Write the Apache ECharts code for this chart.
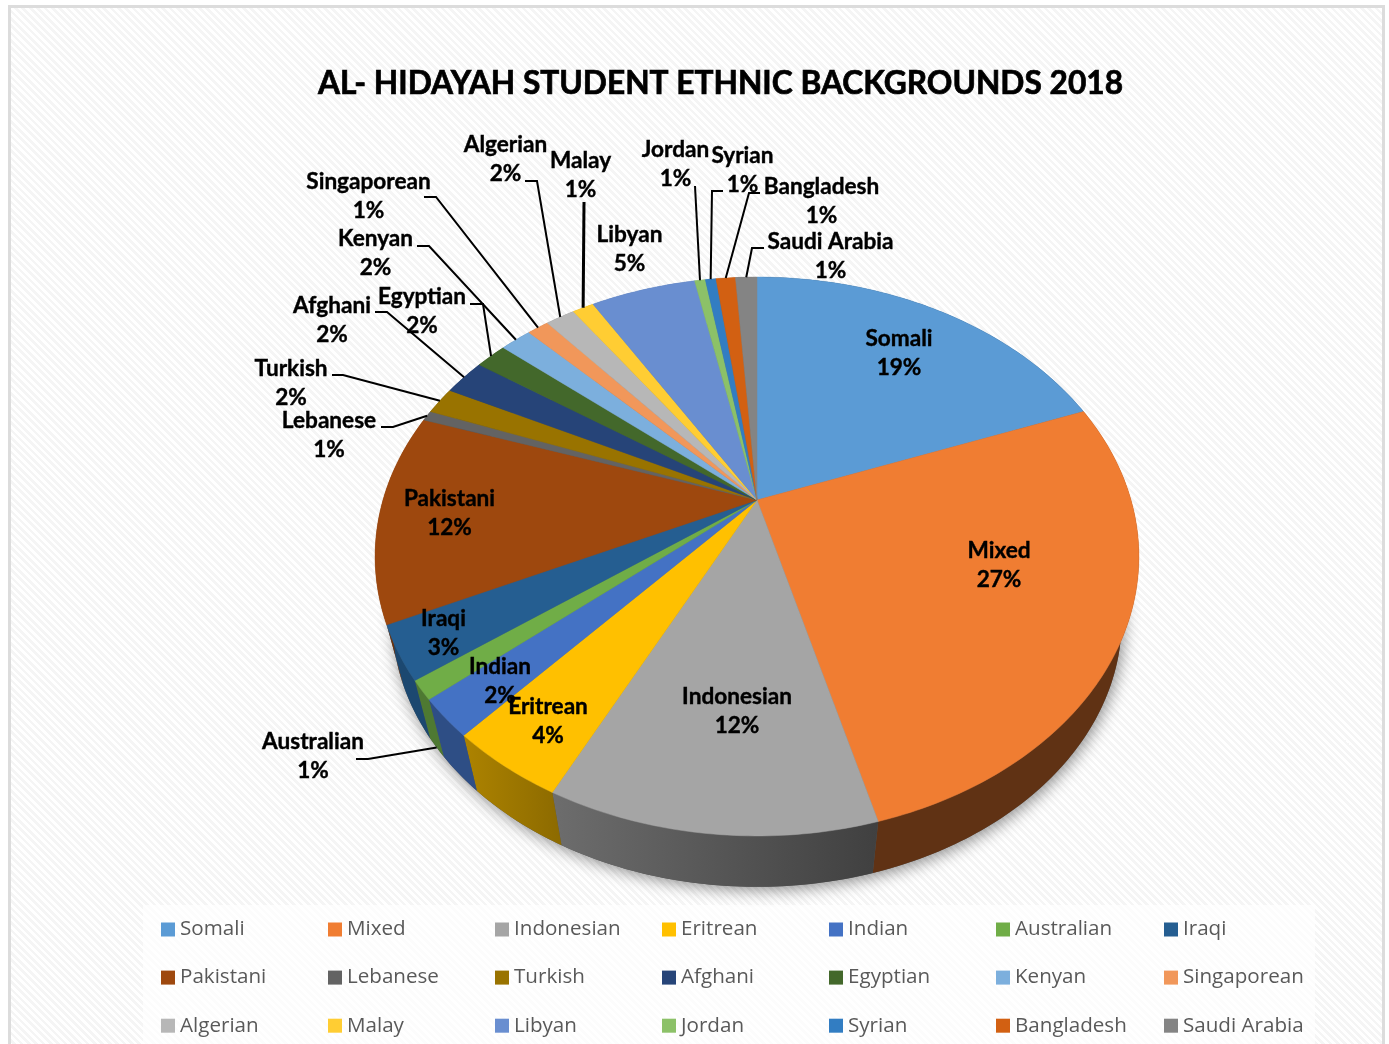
<!DOCTYPE html>
<html>
<head>
<meta charset="utf-8">
<title>Al-Hidayah student ethnic backgrounds 2018</title>
<script src="https://cdn.jsdelivr.net/npm/echarts@6/dist/echarts.min.js"></script>
<style>
  html, body { margin: 0; padding: 0; background: #fff; overflow: hidden; }
  #frame {
    position: absolute; left: 8px; top: 5px; width: 1371px; height: 1060px;
    border: 3px solid #dcdcdc;
    background: repeating-linear-gradient(45deg, #fff 0, #fff 2.6px, #f5f5f5 2.6px, #f5f5f5 5.2px);
  }
  #chart { position: absolute; left: 0; top: 0; width: 1389px; height: 1044px; }
</style>
</head>
<body>
<div id="frame"></div>
<div id="chart"></div>
<script>
// Student counts expressed as a share of the school, in drawing order (clockwise from 12 o'clock).
const groups = ['Somali', 'Mixed', 'Indonesian', 'Eritrean', 'Indian', 'Australian', 'Iraqi',
  'Pakistani', 'Lebanese', 'Turkish', 'Afghani', 'Egyptian', 'Kenyan', 'Singaporean',
  'Algerian', 'Malay', 'Libyan', 'Jordan', 'Syrian', 'Bangladesh', 'Saudi Arabia'];
const shares = [19.25, 26.55, 11.6, 4.2, 2.2, 1.1, 3.1,
  12.15, 0.6, 1.6, 2.15, 1.6, 1.6, 1.1,
  1.5, 1.1, 5.4, 0.55, 0.55, 1.0, 1.1];
const colors = ['#5B9BD5', '#F07D32', '#A5A5A5', '#FFC000', '#4472C4', '#70AD47', '#255E91',
  '#9E480E', '#636363', '#997300', '#264478', '#43682B', '#7CAFDD', '#F1975A',
  '#B7B7B7', '#FFCD33', '#698ED0', '#8CC168', '#327DC2', '#D26012', '#848484'];
const titleText = 'AL- HIDAYAH STUDENT ETHNIC BACKGROUNDS 2018';

// Brightness of each slice's outer wall, left end then right end.
const wallShade = [[.4, .4], [.4, .4], [.66, .39], [.68, .55], [.68, .68], [.7, .7], [.77, .77]];

// Tilted disc: perspective projection of a unit circle, plus the smaller base disc below it.
const disc = { cx: 757, cy: 500, a: 374, b: 268, k: 0.2022, baseScale: 0.955, baseDrop: 66 };

// Label centres and the elbows of their leader lines.
const labelSpots = {
  'Somali': [899, 353.5], 'Mixed': [999, 565.5], 'Indonesian': [737, 711.5], 'Eritrean': [548, 721.5],
  'Indian': [500, 681.5], 'Iraqi': [443.5, 633.5], 'Pakistani': [449.5, 513.5], 'Australian': [313, 756.5],
  'Lebanese': [329, 435], 'Turkish': [291, 383.5], 'Afghani': [332, 320], 'Egyptian': [422, 311.5],
  'Kenyan': [375.5, 253.5], 'Singaporean': [368.5, 196.5], 'Algerian': [505.5, 159], 'Malay': [580.5, 175],
  'Libyan': [629.5, 249.5], 'Jordan': [675.5, 164.5], 'Syrian': [742.5, 170.5], 'Bangladesh': [821.5, 201.5],
  'Saudi Arabia': [830.5, 256.5]
};
const leaders = {
  'Australian': { path: [[356, 759], [368, 759]], onBase: true },
  'Lebanese': { path: [[381, 427], [393, 427]] },
  'Turkish': { path: [[332, 375], [343, 375]] },
  'Afghani': { path: [[375, 312], [387, 312]] },
  'Egyptian': { path: [[470, 304], [483, 304]] },
  'Kenyan': { path: [[417, 246], [429, 246]] },
  'Singaporean': { path: [[424, 197], [436, 197]] },
  'Algerian': { path: [[525, 181], [537, 181]] },
  'Malay': { path: [[584, 202]], width: 3 },
  'Jordan': { path: [[695, 186]] },
  'Syrian': { path: [[723, 191], [712, 191]] },
  'Bangladesh': { path: [[760, 193], [749, 193]] },
  'Saudi Arabia': { path: [[764, 248], [752, 248]] }
};

const legendColumns = [161, 328, 495, 662, 829, 996, 1164];
const total = shares.reduce((s, v) => s + v, 0);
const starts = [];
shares.reduce((s, v, i) => { starts[i] = s; return s + v; }, 0);

function angleOf(share) { return share / total * Math.PI * 2; }

function project(theta, onBase) {
  const u = Math.sin(theta), v = Math.cos(theta), w = 1 + disc.k * v;
  const X = disc.a * u / w, Y = disc.b * v / w;
  const s = onBase ? disc.baseScale : 1, drop = onBase ? disc.baseDrop : 0;
  return [disc.cx + X * s, disc.cy - Y * s + drop];
}

function rim(t0, t1, onBase) {
  const n = Math.max(2, Math.ceil((t1 - t0) / 0.015));
  const pts = [];
  for (let i = 0; i <= n; i++) pts.push(project(t0 + (t1 - t0) * i / n, onBase));
  return pts;
}

function scaled(hex, f) {
  const n = parseInt(hex.slice(1), 16);
  return 'rgb(' + [n >> 16 & 255, n >> 8 & 255, n & 255].map(c => Math.round(c * f)).join(',') + ')';
}

const labelFont = 'bold 22.6px Lato, "Open Sans", sans-serif';

function sliceItem(index) {
  const t0 = angleOf(starts[index]), t1 = angleOf(starts[index] + shares[index]), mid = (t0 + t1) / 2;
  const name = groups[index], color = colors[index];
  const top = rim(t0, t1, false), base = rim(t0, t1, true);
  const shade = wallShade[index] || [.7, .7];
  const xs = base.concat(top).map(p => p[0]);
  const xMax = Math.max.apply(null, xs), xMin = Math.min.apply(null, xs);
  const children = [
    {
      type: 'polygon', z2: 1,
      shape: { points: top.concat(base.slice().reverse()) },
      style: {
        fill: {
          type: 'linear', global: true, x: xMin, y: 0, x2: xMax, y2: 0,
          colorStops: [{ offset: 0, color: scaled(color, shade[0]) }, { offset: 1, color: scaled(color, shade[1]) }]
        }
      }
    },
    {
      type: 'polygon', z2: 2,
      shape: { points: [[disc.cx, disc.cy]].concat(top) },
      style: { fill: color, stroke: color, lineWidth: 0.5 }
    }
  ];
  const lead = leaders[name];
  if (lead) {
    children.push({
      type: 'polyline', z2: 3,
      shape: { points: lead.path.concat([project(mid, !!lead.onBase)]) },
      style: { fill: 'none', stroke: '#000', lineWidth: lead.width || 2 }
    });
  }
  const spot = labelSpots[name];
  children.push({
    type: 'text', z2: 4,
    style: {
      text: name + '\n' + Math.round(shares[index]) + '%',
      x: spot[0], y: spot[1], align: 'center', verticalAlign: 'middle',
      font: labelFont, lineHeight: 29, fill: '#000', stroke: '#000', lineWidth: 0.4
    }
  });
  return { type: 'group', children };
}

const baseShadow = {
  type: 'custom', name: 'base shadow', coordinateSystem: 'none', silent: true, animation: false,
  data: [0],
  renderItem: () => ({
    type: 'polygon', z2: 0,
    shape: { points: rim(0, Math.PI * 2, true) },
    style: { fill: '#555', shadowColor: 'rgba(0,0,0,.45)', shadowBlur: 16, shadowOffsetX: 2, shadowOffsetY: 3 }
  })
};

const sliceSeries = groups.map((name, i) => ({
  type: 'custom', name, coordinateSystem: 'none', animation: false, silent: true,
  itemStyle: { color: colors[i] },
  data: [shares[i]],
  renderItem: () => sliceItem(i)
}));

const legends = legendColumns.map((left, col) => ({
  orient: 'vertical', left, top: 919, padding: 0, itemGap: 27.1, itemWidth: 14, itemHeight: 14,
  icon: 'rect', selectedMode: false,
  data: [groups[col], groups[col + 7], groups[col + 14]],
  textStyle: { color: '#595959', fontFamily: 'Open Sans', fontSize: 20.6, lineHeight: 20, padding: [0, 0, 0, 0] }
}));

const chart = echarts.init(document.getElementById('chart'), null, { renderer: 'canvas' });
chart.setOption({
  animation: false,
  title: {
    text: titleText, left: 715.5, top: 63, textAlign: 'center',
    textStyle: {
      color: '#000', fontFamily: 'Lato', fontWeight: 'bold', fontSize: 31.7,
      textBorderColor: '#000', textBorderWidth: 0.7
    }
  },
  graphic: [{
    type: 'rect', z: -1, silent: true,
    shape: { x: 143, y: 905, width: 1172, height: 139 },
    style: { fill: 'rgba(255,255,255,.72)' }
  }],
  legend: legends,
  series: [baseShadow].concat(sliceSeries)
});
</script>
</body>
</html>
